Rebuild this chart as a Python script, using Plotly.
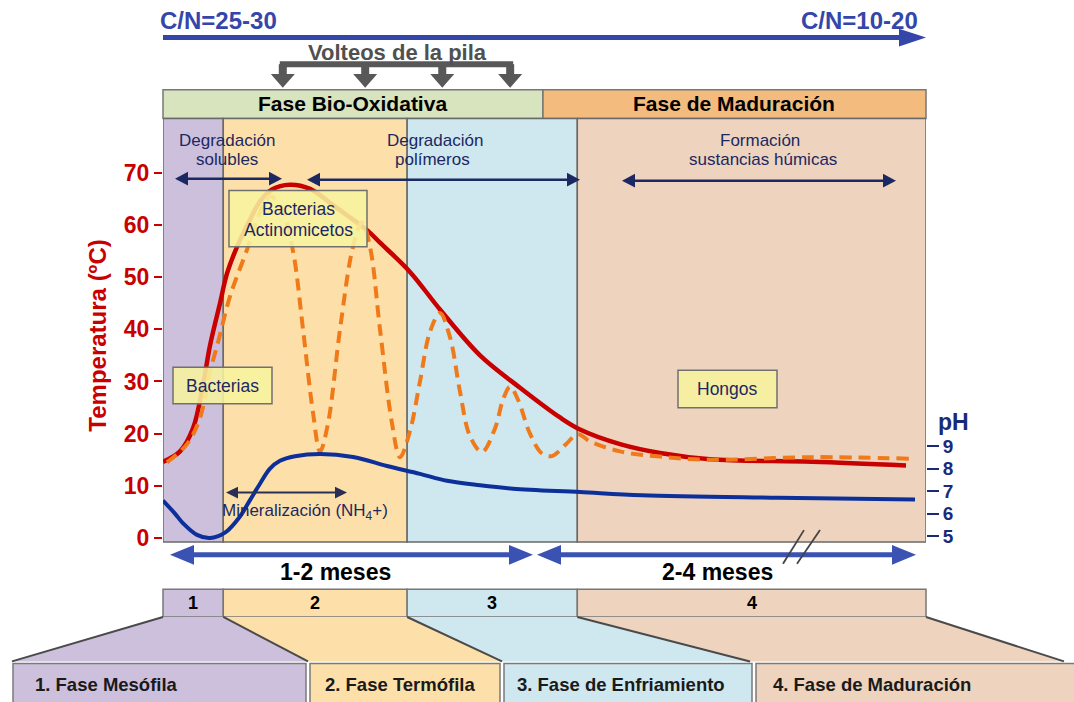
import math
import plotly.graph_objects as go

# ---------------- data ----------------
# time axis: relative composting time, 0-100 across the diagram
time_temp = [0.0, 2.23, 3.93, 5.24, 6.16, 7.47, 8.39, 9.70, 11.40, 12.71, 14.29, 16.64,
             19.27, 22.54, 26.74, 28.44, 32.37, 36.30, 41.55, 46.79, 52.03, 54.65,
             59.90, 65.14, 71.69, 85.06, 97.38]
temp_c = [14.6, 16.6, 21.0, 29.3, 36.9, 45.0, 50.7, 55.8, 61.0, 64.5, 66.8, 67.7,
          66.9, 63.5, 59.0, 56.6, 51.0, 43.8, 35.0, 28.8, 23.1, 20.8,
          18.0, 16.3, 15.1, 14.6, 13.9]

time_turned = [0.52, 3.15, 4.85, 6.16, 7.21, 8.78, 11.14, 12.45, 14.02, 15.60, 17.04,
               18.35, 19.66, 20.58, 21.63, 23.20, 24.90, 26.08, 27.13, 28.44, 30.01,
               31.06, 32.37, 33.68, 34.99, 36.30, 37.61, 38.93, 40.24, 41.81, 43.51,
               44.56, 45.48, 46.53, 48.10, 49.67, 50.98, 52.69, 54.39, 55.96, 59.90,
               65.14, 71.69, 85.06, 97.77]
temp_turned = [14.5, 18.0, 23.0, 31.8, 37.5, 46.3, 55.8, 61.5, 65.5, 63.0, 55.0,
               40.0, 24.0, 16.6, 22.0, 40.0, 55.8, 60.5, 55.8, 40.0, 22.0,
               15.5, 20.5, 30.0, 39.5, 43.1, 38.5, 28.0, 19.5, 16.5, 21.0,
               26.5, 29.0, 26.5, 20.0, 16.2, 15.7, 17.8, 19.9, 18.5, 16.6,
               15.6, 15.0, 15.5, 15.2]

time_ph = [0.0, 1.57, 2.62, 4.46, 6.16, 8.13, 10.09, 11.40, 12.71, 14.02, 15.33, 17.30,
           20.58, 24.90, 29.36, 33.68, 37.22, 41.55, 45.87, 54.65, 62.78, 80.60, 98.56]
ph_values = [6.58, 6.0, 5.57, 5.05, 4.91, 5.15, 5.87, 6.6, 7.33, 8.0, 8.35, 8.55,
             8.65, 8.52, 8.12, 7.77, 7.46, 7.26, 7.11, 6.96, 6.82, 6.71, 6.63]

temp_ticks = [0, 10, 20, 30, 40, 50, 60, 70]
ph_ticks = [5, 6, 7, 8, 9]

phase_labels = ["1", "2", "3", "4"]
phase_edges = [0, 7.9, 32.0, 54.3, 100]
phase_names = ["1. Fase Mesófila", "2. Fase Termófila", "3. Fase de Enfriamiento",
               "4. Fase de Maduración"]
stage_labels = ["Fase Bio-Oxidativa", "Fase de Maduración"]
stage_edges = [0, 49.8, 100]
turning_times = [15.7, 26.5, 36.6, 45.5]
period_labels = ["1-2 meses", "2-4 meses"]
cn_labels = ["C/N=25-30", "C/N=10-20"]

# ---------------- styling / layout helpers ----------------
W, H = 1074, 702
PL, PR, PT, PB = 163, 926, 120, 549
FONT = "Liberation Sans, Arial, sans-serif"
NAVY = "#1c2862"
RED = "#c80000"
phase_colors = ["#cdc0dc", "#fde0a9", "#cfe7ef", "#eed4bf"]
stage_colors = ["#d7e4bd", "#f3bc7e"]


def xpx(u):
    return PL + u * (PR - PL) / 100.0


def fx(x):
    return x / W


def fy(y):
    return 1 - y / H


shapes = []
annotations = []


def rect(x0, y0, x1, y1, fill, lc="#777777", lw=1.5, layer="below"):
    shapes.append(dict(type="rect", xref="paper", yref="paper", x0=fx(x0), x1=fx(x1),
                       y0=fy(y1), y1=fy(y0), fillcolor=fill,
                       line=dict(color=lc, width=lw), layer=layer))


def seg(x0, y0, x1, y1, color, width, layer="above"):
    shapes.append(dict(type="line", xref="paper", yref="paper", x0=fx(x0), y0=fy(y0),
                       x1=fx(x1), y1=fy(y1), line=dict(color=color, width=width),
                       layer=layer))


def poly(points, fill, lc=None, lw=0, layer="above"):
    path = "M " + " L ".join(f"{fx(x):.5f},{fy(y):.5f}" for x, y in points) + " Z"
    shapes.append(dict(type="path", xref="paper", yref="paper", path=path,
                       fillcolor=fill, line=dict(color=lc or fill, width=lw), layer=layer))


def head(xt, yt, xf, yf, length, half, color):
    dx, dy = xt - xf, yt - yf
    n = math.hypot(dx, dy)
    ux, uy = dx / n, dy / n
    bx, by = xt - ux * length, yt - uy * length
    nx, ny = -uy, ux
    poly([(xt, yt), (bx + nx * half, by + ny * half), (bx - nx * half, by - ny * half)], color)


def arrow(x0, y0, x1, y1, color, width, length, half, both=False):
    dx, dy = x1 - x0, y1 - y0
    n = math.hypot(dx, dy)
    ux, uy = dx / n, dy / n
    sx, sy = (x0 + ux * length * 0.7, y0 + uy * length * 0.7) if both else (x0, y0)
    ex, ey = x1 - ux * length * 0.7, y1 - uy * length * 0.7
    seg(sx, sy, ex, ey, color, width)
    head(x1, y1, x0, y0, length, half, color)
    if both:
        head(x0, y0, x1, y1, length, half, color)


def text(x, y, s, size, color="black", bold=False, xanchor="center"):
    annotations.append(dict(x=fx(x), y=fy(y), xref="paper", yref="paper", text=s,
                            showarrow=False, xanchor=xanchor, yanchor="middle",
                            font=dict(family=FONT, size=size, color=color,
                                      weight="bold" if bold else "normal")))


# ---- top: C/N arrow ----
CNB = "#3446aa"
arrow(PL, 38, 926, 38, CNB, 5, 27, 9)
text(218, 21, f"<b>{cn_labels[0]}</b>", 24, CNB)
text(859, 21, f"<b>{cn_labels[1]}</b>", 24, CNB)

# ---- "Volteos de la pila" bracket ----
GREY = "#585858"
tx = [xpx(t) for t in turning_times]
seg(tx[0] - 3, 65, tx[-1] + 3, 65, GREY, 6)
for x in tx:
    seg(x, 65, x, 80, GREY, 8)
    head(x, 89, x, 65, 14, 12, GREY)
text(397, 53, "<b>Volteos de la pila</b>", 22, "#505050")

# ---- stage header boxes ----
for i, lab in enumerate(stage_labels):
    x0, x1 = xpx(stage_edges[i]), xpx(stage_edges[i + 1])
    rect(x0, 91, x1, 120, stage_colors[i], "#777777", 1.5)
    text((x0 + x1) / 2, 105, f"<b>{lab}</b>", 21)

# ---- phase backgrounds ----
for i in range(4):
    shapes.append(dict(type="rect", xref="x", yref="paper", x0=phase_edges[i],
                       x1=phase_edges[i + 1], y0=fy(PB), y1=fy(PT),
                       fillcolor=phase_colors[i], line=dict(color="#6a6a6a", width=1.5),
                       layer="below"))

# ---- process arrows & labels inside plot ----
text(227, 142, "Degradación", 17, NAVY)
text(227, 162, "solubles", 17, NAVY)
arrow(175, 181, 282, 181, NAVY, 2.5, 13, 7, both=True)
text(435, 142, "Degradación", 17, NAVY)
text(432, 162, "polímeros", 17, NAVY)
arrow(307, 182, 580, 182, NAVY, 2.5, 13, 7, both=True)
text(760, 142, "Formación", 17, NAVY)
text(763, 162, "sustancias húmicas", 17, NAVY)
arrow(622, 183, 896, 183, NAVY, 2.5, 13, 7, both=True)

arrow(226, 499, 347, 499, "#2a2f55", 2, 12, 6, both=True)
text(305, 519, "Mineralización (NH<sub>4</sub>+)", 17, NAVY)

# organism boxes
BOX = "rgba(247,242,158,0.88)"
rect(229, 193, 367, 250, BOX, "#707070", 1.5, layer="above")
text(298, 212, "Bacterias", 17.5, NAVY)
text(298, 233, "Actinomicetos", 17.5, NAVY)
rect(173, 372, 272, 409, BOX, "#707070", 1.5, layer="above")
text(222, 391, "Bacterias", 17.5, NAVY)
rect(678, 375, 777, 413, BOX, "#707070", 1.5, layer="above")
text(727, 394, "Hongos", 17.5, NAVY)

# ---- duration arrows ----
BLUE = "#3a52b2"
arrow(170, 562, 533, 562, BLUE, 5, 24, 10, both=True)
arrow(537, 562, 916, 562, BLUE, 5, 24, 10, both=True)
text(335, 579, f"<b>{period_labels[0]}</b>", 23)
text(717, 579, f"<b>{period_labels[1]}</b>", 23)
seg(783, 571, 804, 537, "#444444", 1.8)
seg(797, 571, 820, 537, "#444444", 1.8)

# ---- phase number strip ----
for i, lab in enumerate(phase_labels):
    x0, x1 = xpx(phase_edges[i]), xpx(phase_edges[i + 1])
    rect(x0, 597, x1, 625, phase_colors[i], "#777777", 1.5)
    text((x0 + x1) / 2, 611, f"<b>{lab}</b>", 18)

# ---- trapezoids and named phase boxes ----
tops = [xpx(e) for e in phase_edges]
bots = [12, 308, 502, 750, 1064]
box_x = [(13, 306), (310, 500), (504, 752), (756, 1090)]
text_x = [33, 323, 515, 771]
for i in range(4):
    poly([(tops[i], 625), (tops[i + 1], 625), (bots[i + 1], 670), (bots[i], 670)],
         phase_colors[i], layer="below")
for i in range(5):
    seg(tops[i], 625, bots[i], 670, "#4a4a4a", 2)
for i, name in enumerate(phase_names):
    x0, x1 = box_x[i]
    rect(x0, 672, x1, 720, phase_colors[i], "#7a7a7a", 1.5)
    text(text_x[i], 693, f"<b>{name}</b>", 18.5, "#1a1a1a", xanchor="left")

# ---- axis titles ----
annotations.append(dict(x=fx(98), y=fy(340), xref="paper", yref="paper",
                        xanchor="center", yanchor="middle",
                        text="<b>Temperatura (ºC)</b>", showarrow=False, textangle=-90,
                        font=dict(family=FONT, size=24, color=RED)))
text(953, 427, "<b>pH</b>", 23, "#1a2a78")

# ---------------- figure ----------------
fig = go.Figure()
fig.add_trace(go.Scatter(x=time_temp, y=temp_c, mode="lines", yaxis="y",
                         line=dict(color=RED, width=4.5, shape="spline", smoothing=1.0),
                         hoverinfo="skip"))
fig.add_trace(go.Scatter(x=time_turned, y=temp_turned, mode="lines", yaxis="y",
                         line=dict(color="#f07a1a", width=4, dash="12px,7px",
                                   shape="spline", smoothing=1.0),
                         hoverinfo="skip"))
fig.add_trace(go.Scatter(x=time_ph, y=ph_values, mode="lines", yaxis="y2",
                         line=dict(color="#0d2f9a", width=4, shape="spline", smoothing=1.0),
                         hoverinfo="skip"))

t_per_px = 70.0 / (545 - 175)
ph_per_px = 4.0 / (543 - 452)
fig.update_layout(
    width=W, height=H, margin=dict(l=0, r=0, t=0, b=0),
    paper_bgcolor="white", plot_bgcolor="rgba(0,0,0,0)", showlegend=False,
    xaxis=dict(domain=[fx(PL), fx(PR)], range=[0, 100], visible=False, fixedrange=True),
    yaxis=dict(domain=[fy(PB), fy(PT)],
               range=[0 - (PB - 545) * t_per_px, 70 + (175 - PT) * t_per_px],
               tickvals=temp_ticks, ticks="outside", ticklen=8, tickwidth=2,
               tickcolor=RED, showgrid=False, zeroline=False, showline=False,
               tickfont=dict(family=FONT, size=23, color=RED, weight="bold")),
    yaxis2=dict(overlaying="y", side="right", anchor="x",
                range=[5 - (PB - 543) * ph_per_px, 9 + (452 - PT) * ph_per_px],
                tickvals=ph_ticks, ticks="outside", ticklen=12, tickwidth=2,
                tickcolor="#1a2a78", showgrid=False, zeroline=False, showline=False,
                tickfont=dict(family=FONT, size=19, color="#1a2a78", weight="bold")),
    shapes=shapes, annotations=annotations,
)

fig.write_html("out.html", config={"displayModeBar": False},
               post_script="document.body.style.margin='0';document.body.style.overflow='hidden';")
